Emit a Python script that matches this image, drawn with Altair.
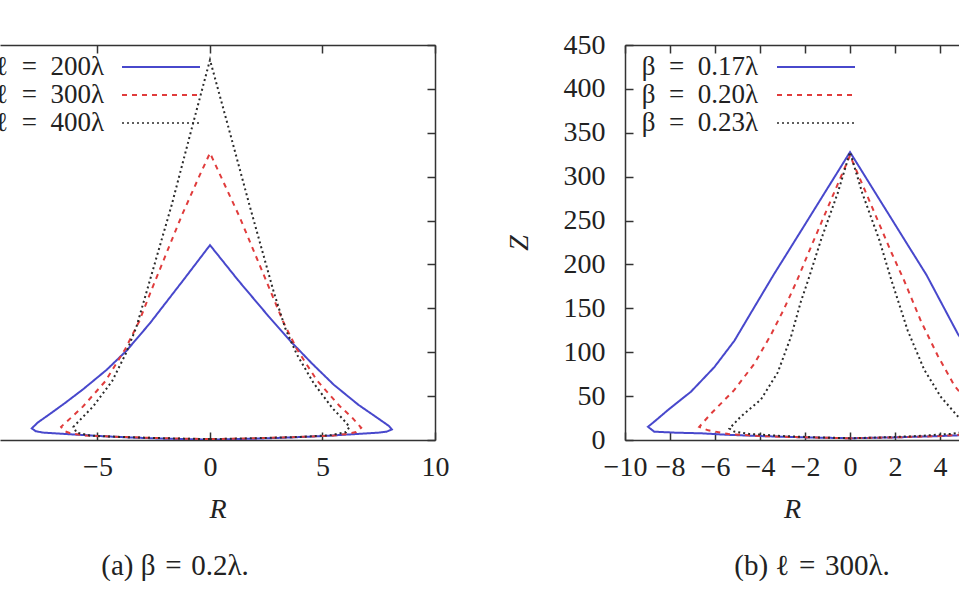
import altair as alt
import pandas as pd

# ---------------- data ----------------
# Panel (a): beta = 0.2 lambda, three lengths
A_NAMES = ["ℓ\u2002=\u2002200λ", "ℓ\u2002=\u2002300λ", "ℓ\u2002=\u2002400λ"]
A200_R = [0, -2, -3.5, -4.9, -6.4, -7.4, -7.75, -7.92, -7.65, -7.15, -6.45, -5.63, -4.59, -3.7, -2.67, -1.19, 0,
          1.25, 2.6, 3.6, 4.5, 5.5, 6.6, 7.45, 7.95, 8.08, 7.85, 7.5, 6.5, 5.0, 3.5, 2.0, 0]
A200_Z = [0.5, 1.5, 2.8, 4.5, 6.8, 8.4, 10, 13.3, 20, 29, 42, 58, 80, 102, 133, 182, 222,
          182, 141, 112, 88, 63, 40, 25, 16, 12, 9.5, 8.4, 6.8, 4.5, 2.8, 1.5, 0.5]
A300_R = [0, -2, -4, -5.5, -6.2, -6.5, -6.62, -6.15, -5.65, -4.65, -3.78, -3.15, -2.6, -1.25, -0.45, 0,
          0.45, 1.3, 2.65, 3.25, 3.85, 4.75, 5.75, 6.3, 6.72, 6.5, 6.1, 5.5, 4, 2, 0]
A300_Z = [1, 2, 3.5, 5, 7.6, 10.5, 15, 26, 38, 67, 103, 135, 171, 256, 302, 327,
          302, 255, 172, 135, 104, 68, 39, 26, 14, 9, 7, 5, 3.5, 2, 1]
A400_R = [0, -2, -4, -5.3, -5.93, -6.07, -5.62, -5.2, -4.35, -3.75, -3.28, -2.85, -1.7, -0.78, 0,
          0.8, 1.75, 2.85, 3.35, 3.85, 4.6, 5.45, 5.9, 6.2, 6.05, 5.4, 4, 2, 0]
A400_Z = [1, 2, 3.5, 5, 8.4, 15, 27, 38, 67, 98, 128, 166, 268, 358, 433,
          358, 268, 167, 127, 98, 65, 36, 24, 15, 9, 5.5, 3.5, 2, 1]

# Panel (b): l = 300 lambda, three widths
B_NAMES = ["β\u2002=\u20020.17λ", "β\u2002=\u20020.20λ", "β\u2002=\u20020.23λ"]
B017_R = [0, -2, -4, -5.5, -6.6, -7.8, -8.7, -8.98, -8.6, -8.1, -7.07, -6.03, -5.14, -4.4, -3.4, -2.62, -1.14, 0,
          1.14, 2.62, 3.4, 4.79, 5.6, 6.6, 7.6, 8.6, 9.0, 8.7, 7.8, 6.6, 5.5, 4, 2, 0]
B017_Z = [2, 3, 4.5, 6, 7.6, 8.4, 9.5, 15, 23, 34, 55, 83, 113, 145, 188, 220, 281, 328,
          281, 220, 188, 121, 90, 58, 38, 23, 15, 9.5, 8.4, 7.6, 6, 4.5, 3, 2]
B020_R = [0, -2, -4, -5.4, -6.3, -6.7, -6.18, -5.14, -4.25, -3.51, -2.92, -2.35, -1.85, -0.72, 0,
          0.72, 1.85, 2.4, 3.16, 3.9, 4.64, 5.4, 6.2, 6.7, 6.3, 5.4, 4, 2, 0]
B020_Z = [2, 3, 4.5, 6.8, 11, 15, 30, 57, 87, 120, 150, 182, 213, 281, 324,
          281, 213, 182, 135, 96, 62, 38, 22, 15, 11, 6.8, 4.5, 3, 2]
B023_R = [0, -1.5, -3, -4.5, -5.14, -5.36, -4.84, -3.96, -3.21, -2.62, -2.18, -1.86, -1.29, -0.55, 0,
          0.55, 1.3, 1.84, 2.56, 3.3, 4.04, 4.79, 5.36, 5.14, 4.5, 3, 1.5, 0]
B023_Z = [2, 3, 4.5, 7, 9.5, 13, 27, 46, 77, 118, 158, 182, 228, 281, 328,
          281, 228, 182, 125, 80, 49, 27, 13, 9.5, 7, 4.5, 3, 2]

X_TICKS_A = [-5, 0, 5, 10]
X_TICKS_B = [-10, -8, -6, -4, -2, 0, 2, 4]
Y_TICKS = [0, 50, 100, 150, 200, 250, 300, 350, 400, 450]
CAPTION_A = "(a) β\u2004=\u20040.2λ."
CAPTION_B = "(b) ℓ\u2004=\u2004300λ."

# ---------------- styling ----------------
FONT = "Liberation Serif"
TEXT = "#222222"
COLORS = ["#4848cc", "#e03c3c", "#2a2a2a"]
DASHES = [[1, 0], [5, 5], [2, 3]]
WIDTHS = [2.0, 2.0, 1.6]
INWARD = alt.ExprRef("-8")
H = 395


def frame(names, rs, zs):
    rows = []
    for name, r, z in zip(names, rs, zs):
        for i, (ri, zi) in enumerate(zip(r, z)):
            rows.append({"series": name, "idx": i, "R": ri, "Z": zi})
    return pd.DataFrame(rows)


def panel(df, names, width, xdom, xticks, caption, cap_dx, left_labels, tx, lx1, lx2):
    xscale = alt.Scale(domain=xdom, nice=False, zero=False)
    yscale = alt.Scale(domain=[0, 450], nice=False, zero=False)
    bottom = alt.Axis(orient="bottom", values=xticks, title="R", titleFontStyle="italic",
                      tickSize=INWARD, labelPadding=21, titlePadding=14)
    if left_labels:
        yaxis = alt.Axis(orient="left", values=Y_TICKS, title="Z", titleFontStyle="italic",
                         tickSize=INWARD, labelPadding=28, titlePadding=30)
    else:
        yaxis = alt.Axis(orient="right", values=Y_TICKS, labels=False, title=None, tickSize=INWARD)
    curves = alt.Chart(df).mark_line(clip=True).encode(
        x=alt.X("R:Q", scale=xscale, axis=bottom),
        y=alt.Y("Z:Q", scale=yscale, axis=yaxis),
        color=alt.Color("series:N", scale=alt.Scale(domain=names, range=COLORS), legend=None),
        strokeDash=alt.StrokeDash("series:N", scale=alt.Scale(domain=names, range=DASHES), legend=None),
        strokeWidth=alt.StrokeWidth("series:N", scale=alt.Scale(domain=names, range=WIDTHS), legend=None),
        order=alt.Order("idx:Q"),
    )
    top = alt.Chart(df).mark_point(opacity=0, clip=True).encode(
        x=alt.X("R:Q", scale=xscale,
                axis=alt.Axis(orient="top", values=xticks, labels=False, title=None, tickSize=INWARD)),
        y=alt.Y("Z:Q", scale=yscale, axis=None),
    )
    layers = [curves, top]
    for i, name in enumerate(names):
        y = 22 + 28 * i
        ldf = pd.DataFrame({"series": [name]})
        layers.append(
            alt.Chart(ldf).mark_text(align="right", baseline="middle", font=FONT, fontSize=27,
                                     color=TEXT, clip=True).encode(
                text="series:N", x=alt.value(tx), y=alt.value(y))
        )
        layers.append(
            alt.Chart(ldf).mark_rule(color=COLORS[i], strokeDash=DASHES[i], strokeWidth=WIDTHS[i]).encode(
                x=alt.value(lx1), x2=alt.value(lx2), y=alt.value(y))
        )
    return alt.layer(*layers).resolve_axis(x="independent", y="independent").properties(
        width=width, height=H,
        title=alt.TitleParams(caption, orient="bottom", anchor="middle", frame="group", dx=cap_dx,
                              offset=29, font=FONT, fontSize=29, fontWeight="normal", color=TEXT),
    )


df_a = frame(A_NAMES, [A200_R, A300_R, A400_R], [A200_Z, A300_Z, A400_Z])
df_b = frame(B_NAMES, [B017_R, B020_R, B023_R], [B017_Z, B020_Z, B023_Z])

left = panel(df_a, A_NAMES, 435, [-9.333, 10], X_TICKS_A, CAPTION_A, -42.5, False, 104, 122, 200)
right = panel(df_b, B_NAMES, 334, [-10, 4.844], X_TICKS_B, CAPTION_B, 20, True, 133, 152, 230)

chart = alt.hconcat(left, right, spacing=190, bounds="flush").configure_view(stroke=None).configure_axis(
    labelFont=FONT, titleFont=FONT, labelFontSize=28, titleFontSize=28,
    labelColor=TEXT, titleColor=TEXT, titleFontWeight="normal",
    domainColor="#333333", tickColor="#333333", domainWidth=1.5, tickWidth=1.5,
    grid=False, labelFlush=False, labelOverlap=False,
).properties(padding={"left": 0, "top": 31, "right": 0, "bottom": 0}, background="white")

chart.save("out.html", embed_options={"renderer": "svg", "actions": False})
